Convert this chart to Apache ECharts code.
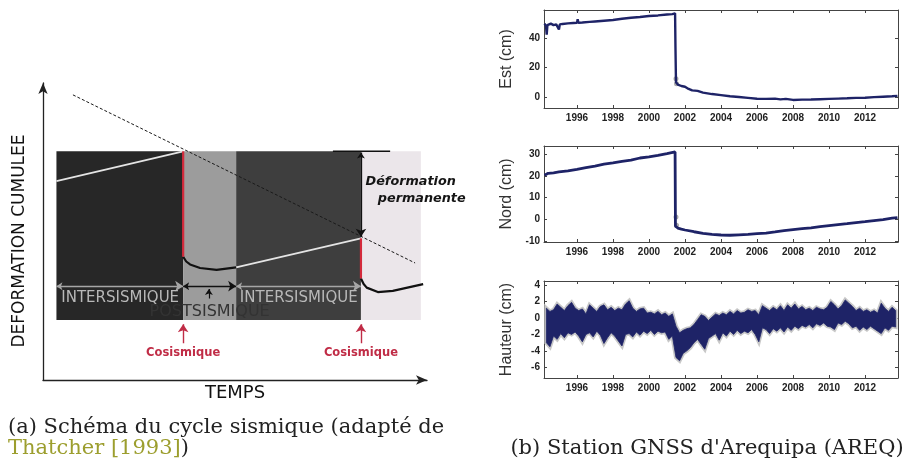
<!DOCTYPE html>
<html><head><meta charset="utf-8">
<script src="https://cdn.jsdelivr.net/npm/echarts@6/dist/echarts.min.js"></script>
<style>html,body{margin:0;padding:0;background:#fff}#c{width:923px;height:470px}</style>
</head><body><div id="c"></div>
<script>
// ---------- (a) schematic of the seismic cycle : time 0-100, cumulated deformation 0-100 ----------
const phaseEdges = [3.5, 36.5, 50.3, 82.8, 98.4];
const phaseBand = [20.2, 77];
const interLine1 = [[3.5, 67], [36.5, 77]];
const cosLine1 = [[36.5, 77], [36.5, 41.5]];
const postCurve1 = [[36.5, 41.5], [37.3, 39.9], [38.3, 38.9], [40.9, 37.7], [45.2, 37.1], [50.3, 37.9]];
const interLine2 = [[50.3, 37.9], [82.8, 47.7]];
const cosLine2 = [[82.8, 47.7], [82.8, 34.2]];
const postCurve2 = [[82.8, 34.2], [83.5, 32.3], [84.3, 31.1], [87.2, 29.6], [91.1, 30], [99, 32.3]];
const trendLine = [[7.8, 96], [96.9, 39.4]];
const permLevel = [[75.5, 77], [90.4, 77]];
const permArrow = [[82.8, 76.6], [82.8, 48.2]];
const phaseSpans = [[3.5, 36.5], [36.5, 50.3], [50.3, 82.8]];
const phaseSpanLevel = 31.6;
const postMarker = [[43.2, 27.4], [43.2, 30.6]];
const cosMarkers = [[[36.5, 12.4], [36.5, 18.8]], [[82.8, 12.4], [82.8, 18.8]]];
const phaseLabels = ['INTERSISMIQUE', 'POSTSISMIQUE', 'INTERSISMIQUE'];
const phaseLabelPos = [[20.1, 27.6], [43.4, 23.0], [66.6, 27.6]];
const cosLabel = 'Cosismique';
const cosLabelPos = [[36.5, 9.1], [82.8, 9.1]];
const permLabels = ['Déformation', 'permanente'];
const permLabelPos = [[84.0, 66.7], [87.2, 61.0]];

// ---------- (b) GNSS station AREQ ----------
const yearTicks = [1996, 1998, 2000, 2002, 2004, 2006, 2008, 2010, 2012];
const estTicks = [0, 20, 40];
const nordTicks = [-10, 0, 10, 20, 30];
const hautTicks = [-6, -4, -2, 0, 2, 4];

const estYears = [1994.2,1994.28,1994.32,1994.36,1994.45,1994.55,1994.7,1994.85,1994.95,1995.0,1995.05,1995.2,1995.5,1995.8,1996.0,1996.04,1996.08,1996.3,1996.7,1997.0,1997.5,1998.0,1998.5,1999.0,1999.5,2000.0,2000.5,2001.0,2001.3,2001.45,2001.47,2001.5,2001.6,2001.8,2002.0,2002.2,2002.4,2002.7,2003.0,2003.5,2004.0,2004.5,2005.0,2005.5,2006.0,2006.5,2007.0,2007.3,2007.6,2008.0,2008.5,2009.0,2009.5,2010.0,2010.5,2011.0,2011.5,2012.0,2012.5,2013.0,2013.5,2013.8];
const estValues = [50,48.5,42.5,49,48,50,49,49.5,49.5,46,49.5,49.8,50.2,50.4,50.5,53,50.6,50.8,51.2,51.5,52,52.5,53.3,54,54.5,55.2,55.6,56.2,56.5,57,35,10,8.5,7.5,7,5.5,4.5,4.2,3,2,1.3,0.5,0,-0.6,-1.2,-1.3,-1.1,-1.6,-1.3,-2,-1.8,-1.7,-1.5,-1.3,-1.1,-0.9,-0.6,-0.5,-0.1,0.2,0.5,0.8];
const estOutYears = [2001.5, 2001.53];
const estOutValues = [12.5, 9];

const nordYears = [1994.2,1994.4,1994.7,1995.0,1995.5,1996.0,1996.5,1997.0,1997.5,1998.0,1998.5,1999.0,1999.5,2000.0,2000.5,2001.0,2001.45,2001.47,2001.6,2001.8,2002.0,2002.5,2003.0,2003.5,2004.0,2004.5,2005.0,2005.5,2006.0,2006.5,2007.0,2007.5,2008.0,2008.5,2009.0,2009.5,2010.0,2010.5,2011.0,2011.5,2012.0,2012.5,2013.0,2013.5,2013.8];
const nordValues = [20.3,21.2,21.4,21.8,22.3,23,23.8,24.5,25.4,26,26.7,27.2,28.2,28.7,29.4,30.2,31,-3,-3.9,-4.4,-4.8,-5.6,-6.3,-6.8,-7.1,-7.2,-7,-6.8,-6.5,-6.2,-5.7,-5.1,-4.6,-4.2,-3.8,-3.3,-2.8,-2.3,-1.9,-1.4,-1,-0.5,0,0.6,0.9];
const nordOutYears = [2001.5, 2001.53];
const nordOutValues = [1.2, -2.6];

// Hauteur: upper / lower envelope of the daily scatter, in 0.2-year bins starting 1994.3
const hautFirstBin = 1994.3;
const hautBinWidth = 0.2;
const hautTop = [
1.2,0.8,1.0,1.7,1.3,0.9,1.5,1.9,1.2,0.9,
1.1,0.5,1.6,1.2,0.8,1.4,1.6,1.0,1.3,0.9,
1.2,1.0,1.7,2.1,1.2,0.8,1.1,1.2,0.6,0.7,
0.5,0.8,0.4,0.6,0.2,0.5,-1.0,-1.8,-1.5,-1.3,
-1.2,-0.8,-0.2,0.4,0.2,-0.3,0.1,0.5,0.3,0.6,
0.4,0.8,0.5,0.9,0.6,0.7,1.0,0.8,0.9,0.4,
1.5,1.2,0.9,1.3,1.0,1.5,0.9,1.6,1.2,1.7,
1.1,1.4,1.0,1.2,0.9,1.3,1.1,1.0,1.3,2.0,
1.6,1.1,1.5,2.2,1.8,1.4,0.9,1.2,0.8,1.0,
0.7,0.9,0.6,1.8,1.2,0.8,1.3,0.9];
const hautBottom = [
-3.0,-3.5,-2.2,-2.6,-1.9,-2.4,-1.8,-2.0,-1.7,-2.2,
-2.9,-2.0,-1.8,-2.3,-1.6,-2.1,-3.1,-2.4,-1.8,-2.2,
-2.8,-3.4,-2.0,-1.9,-2.3,-1.7,-2.1,-1.6,-1.9,-1.5,
-2.0,-1.6,-1.8,-1.7,-2.6,-2.2,-4.8,-5.2,-4.3,-4.0,
-3.6,-3.0,-2.6,-3.2,-3.8,-2.5,-2.2,-1.9,-2.7,-1.8,
-2.2,-1.6,-2.0,-1.5,-1.9,-1.6,-1.8,-1.4,-2.0,-2.9,
-1.2,-1.4,-1.9,-1.3,-1.6,-1.2,-1.7,-1.1,-1.5,-1.0,
-1.3,-0.9,-1.1,-0.8,-1.2,-0.7,-0.9,-0.6,-1.0,-1.1,
-1.4,-0.6,-0.8,-0.4,-0.7,-1.2,-1.0,-1.5,-1.1,-1.4,
-1.0,-1.3,-1.6,-1.9,-1.2,-1.5,-1.0,-1.1];

// ---------- styles ----------
const NAVY = '#1e2367';
const phaseColors = ['#272727', '#9c9c9c', '#3e3e3e', '#ebe6ea'];
const RED = '#d42a3c';
const LABRED = '#c02c46';
const SANS = '"DejaVu Sans", sans-serif';
const TICKFONT = '"Liberation Sans", Arial, sans-serif';
const SERIF = '"DejaVu Serif", serif';

const hautData = hautTop.map((t, i) => [hautFirstBin + i * hautBinWidth, hautBottom[i], t]);
const pairs = (xs, ys) => xs.map((x, i) => [x, ys[i]]);

const chart = echarts.init(document.getElementById('c'), null, {renderer: 'canvas'});

const xr = {min: 1994.17, max: 2013.83};
const plotGrids = [
  {left: 544, top: 10, width: 354, height: 98},
  {left: 544, top: 146, width: 354, height: 96},
  {left: 544, top: 281, width: 354, height: 97}
];
const plotY = [
  {min: -7.5, max: 59.3, ticks: estTicks, name: 'Est (cm)'},
  {min: -10.3, max: 33.7, ticks: nordTicks, name: 'Nord (cm)'},
  {min: -7.3, max: 4.5, ticks: hautTicks, name: 'Hauteur (cm)'}
];

const frameLine = {show: true, onZero: false, lineStyle: {color: '#444', width: 1}};
const xAxes = [{
  gridIndex: 0, type: 'value', min: 0, max: 100,
  axisLine: {show: true, onZero: false, symbol: ['none', 'arrow'], symbolSize: [7, 11], lineStyle: {color: '#222', width: 1.3}},
  axisTick: {show: false}, axisLabel: {show: false}, splitLine: {show: false},
  name: 'TEMPS', nameLocation: 'middle', nameGap: 4,
  nameTextStyle: {fontFamily: SANS, fontSize: 18, color: '#111', verticalAlign: 'top'}
}];
const yAxes = [{
  gridIndex: 0, type: 'value', min: 0, max: 100,
  axisLine: {show: true, onZero: false, symbol: ['none', 'arrow'], symbolSize: [7, 11], lineStyle: {color: '#222', width: 1.3}},
  axisTick: {show: false}, axisLabel: {show: false}, splitLine: {show: false}
}];
plotGrids.forEach((g, k) => {
  const gi = k + 1;
  const yy = plotY[k];
  const tickX = {show: true, inside: true, length: 3, customValues: yearTicks, lineStyle: {color: '#444'}};
  const tickY = {show: true, inside: true, length: 3, customValues: yy.ticks, lineStyle: {color: '#444'}};
  xAxes.push({gridIndex: gi, type: 'value', position: 'bottom', min: xr.min, max: xr.max,
    axisLine: frameLine, axisTick: tickX, splitLine: {show: false},
    axisLabel: {customValues: yearTicks, formatter: v => String(v), fontFamily: TICKFONT, fontWeight: 'bold', fontSize: 10, color: '#222', margin: 5}});
  xAxes.push({gridIndex: gi, type: 'value', position: 'top', min: xr.min, max: xr.max,
    axisLine: frameLine, axisTick: tickX, splitLine: {show: false}, axisLabel: {show: false}});
  yAxes.push({gridIndex: gi, type: 'value', position: 'left', min: yy.min, max: yy.max,
    axisLine: frameLine, axisTick: tickY, splitLine: {show: false},
    axisLabel: {customValues: yy.ticks, formatter: v => String(v), fontFamily: TICKFONT, fontWeight: 'bold', fontSize: 10, color: '#222', margin: 4},
    name: yy.name, nameLocation: 'middle', nameGap: 29,
    nameTextStyle: {fontFamily: '"Liberation Sans", Arial, sans-serif', fontSize: 16, color: '#333'}});
  yAxes.push({gridIndex: gi, type: 'value', position: 'right', min: yy.min, max: yy.max,
    axisLine: frameLine, axisTick: tickY, splitLine: {show: false}, axisLabel: {show: false}});
});

const S0 = {xAxisIndex: 0, yAxisIndex: 0};
const plainLine = (data, color, width, extra) => Object.assign({
  type: 'line', data, showSymbol: false, symbol: 'none', silent: true,
  lineStyle: Object.assign({color, width}, extra || {}), z: 3
}, S0);
const arrowLines = (list, color, width, symbols, size) => Object.assign({
  type: 'lines', coordinateSystem: 'cartesian2d', silent: true, z: 5,
  symbol: symbols, symbolSize: size,
  lineStyle: {color, width, opacity: 1},
  data: list.map(c => ({coords: c}))
}, S0);
const textMarks = (pos, texts, style, position) => Object.assign({
  type: 'scatter', symbolSize: 0, silent: true, z: 6, itemStyle: {opacity: 1},
  data: pos.map((p, i) => ({value: p, label: Object.assign({show: true, opacity: 1, position: position || 'inside', formatter: texts[i]}, style)}))
}, S0);

const series = [
  Object.assign({
    type: 'custom', z: 1, silent: true,
    data: phaseEdges.slice(0, -1).map((x, i) => [x, phaseEdges[i + 1]]),
    renderItem: (params, api) => {
      const p0 = api.coord([api.value(0), phaseBand[1]]);
      const p1 = api.coord([api.value(1), phaseBand[0]]);
      return {type: 'rect', shape: {x: p0[0], y: p0[1], width: p1[0] - p0[0], height: p1[1] - p0[1]},
        style: {fill: phaseColors[params.dataIndex]}};
    }
  }, S0),
  plainLine(trendLine, '#1a1a1a', 1, {type: [3, 2]}),
  plainLine(interLine1, '#e4e4e4', 1.8),
  plainLine(interLine2, '#e4e4e4', 1.8),
  plainLine(postCurve1, '#111', 2.2),
  plainLine(postCurve2, '#111', 2.2),
  plainLine(permLevel, '#111', 1.5),
  plainLine(cosLine1, RED, 2.2),
  plainLine(cosLine2, RED, 2.2),
  arrowLines([permArrow], '#111', 1.3, ['arrow', 'arrow'], [6, 8]),
  arrowLines([[[phaseSpans[0][0], phaseSpanLevel], [phaseSpans[0][1], phaseSpanLevel]], [[phaseSpans[2][0], phaseSpanLevel], [phaseSpans[2][1], phaseSpanLevel]]], '#a6a6a6', 1.3, ['arrow', 'arrow'], [6, 8]),
  arrowLines([[[phaseSpans[1][0], phaseSpanLevel], [phaseSpans[1][1], phaseSpanLevel]]], '#111', 1.3, ['arrow', 'arrow'], [6, 8]),
  arrowLines([postMarker], '#111', 1.2, ['none', 'arrow'], [5, 6]),
  arrowLines(cosMarkers, LABRED, 1.4, ['none', 'arrow'], [6, 8]),
  textMarks([phaseLabelPos[0], phaseLabelPos[2]], [phaseLabels[0], phaseLabels[2]], {fontFamily: SANS, fontSize: 15, color: '#b8b8b8'}),
  textMarks([phaseLabelPos[1]], [phaseLabels[1]], {fontFamily: SANS, fontSize: 16, color: '#333333'}),
  textMarks(cosLabelPos, [cosLabel, cosLabel], {fontFamily: SANS, fontSize: 11.5, fontWeight: 'bold', color: LABRED}),
  textMarks(permLabelPos, permLabels, {fontFamily: SANS, fontSize: 12.8, fontStyle: 'italic', fontWeight: 'bold', color: '#151515', distance: 0}, 'right'),

  // Est
  {type: 'line', xAxisIndex: 1, yAxisIndex: 1, data: pairs(estYears, estValues), showSymbol: false, symbol: 'none',
    lineStyle: {color: NAVY, width: 2.4}, z: 4, silent: true},
  {type: 'scatter', xAxisIndex: 1, yAxisIndex: 1, data: pairs(estOutYears, estOutValues), symbolSize: 5,
    itemStyle: {color: '#aaaaaa', opacity: 1}, z: 3, silent: true},
  // Nord
  {type: 'line', xAxisIndex: 3, yAxisIndex: 3, data: pairs(nordYears, nordValues), showSymbol: false, symbol: 'none',
    lineStyle: {color: NAVY, width: 2.8}, z: 4, silent: true},
  {type: 'scatter', xAxisIndex: 3, yAxisIndex: 3, data: pairs(nordOutYears, nordOutValues), symbolSize: 5,
    itemStyle: {color: '#aaaaaa', opacity: 1}, z: 3, silent: true},
];
// Hauteur band: one polygon through the upper envelope and back along the lower one
[['#c8c8c8', 4, 2], [NAVY, 0.8, 3]].forEach(([col, lw, z]) => {
  series.push({
    type: 'custom', xAxisIndex: 5, yAxisIndex: 5, z, silent: true, data: hautData,
    renderItem: (params, api) => {
      if (params.dataIndex !== 0) return null;
      const upper = hautData.map(d => api.coord([d[0], d[2]]));
      const lower = hautData.slice().reverse().map(d => api.coord([d[0], d[1]]));
      return {type: 'polygon', shape: {points: upper.concat(lower)}, style: {fill: col, stroke: col, lineWidth: lw, lineJoin: 'miter'}};
    }
  });
});

const option = {
  backgroundColor: '#ffffff',
  animation: false,
  grid: [{left: 43, top: 83, width: 384, height: 297}].concat(plotGrids),
  xAxis: xAxes,
  yAxis: yAxes,
  series,
  graphic: [
    {type: 'text', x: 20, y: 241, rotation: Math.PI / 2,
      style: {text: 'DEFORMATION CUMULEE', fontFamily: SANS, fontSize: 17, fill: '#111', align: 'center', verticalAlign: 'middle'}},
    {type: 'text', x: 8, y: 428,
      style: {text: '(a) Schéma du cycle sismique (adapté de', fontFamily: SERIF, fontSize: 21, fill: '#222', align: 'left', verticalAlign: 'middle'}},
    {type: 'text', x: 8, y: 449,
      style: {text: '{g|Thatcher [1993]}{k|)}', fontFamily: SERIF, fontSize: 21, verticalAlign: 'middle',
        rich: {g: {fill: '#9c9e2e', fontFamily: SERIF, fontSize: 21}, k: {fill: '#222', fontFamily: SERIF, fontSize: 21}}}},
    {type: 'text', x: 707, y: 449,
      style: {text: "(b) Station GNSS d'Arequipa (AREQ)", fontFamily: SERIF, fontSize: 21, fill: '#222', align: 'center', verticalAlign: 'middle'}}
  ]
};
chart.setOption(option);
</script></body></html>
